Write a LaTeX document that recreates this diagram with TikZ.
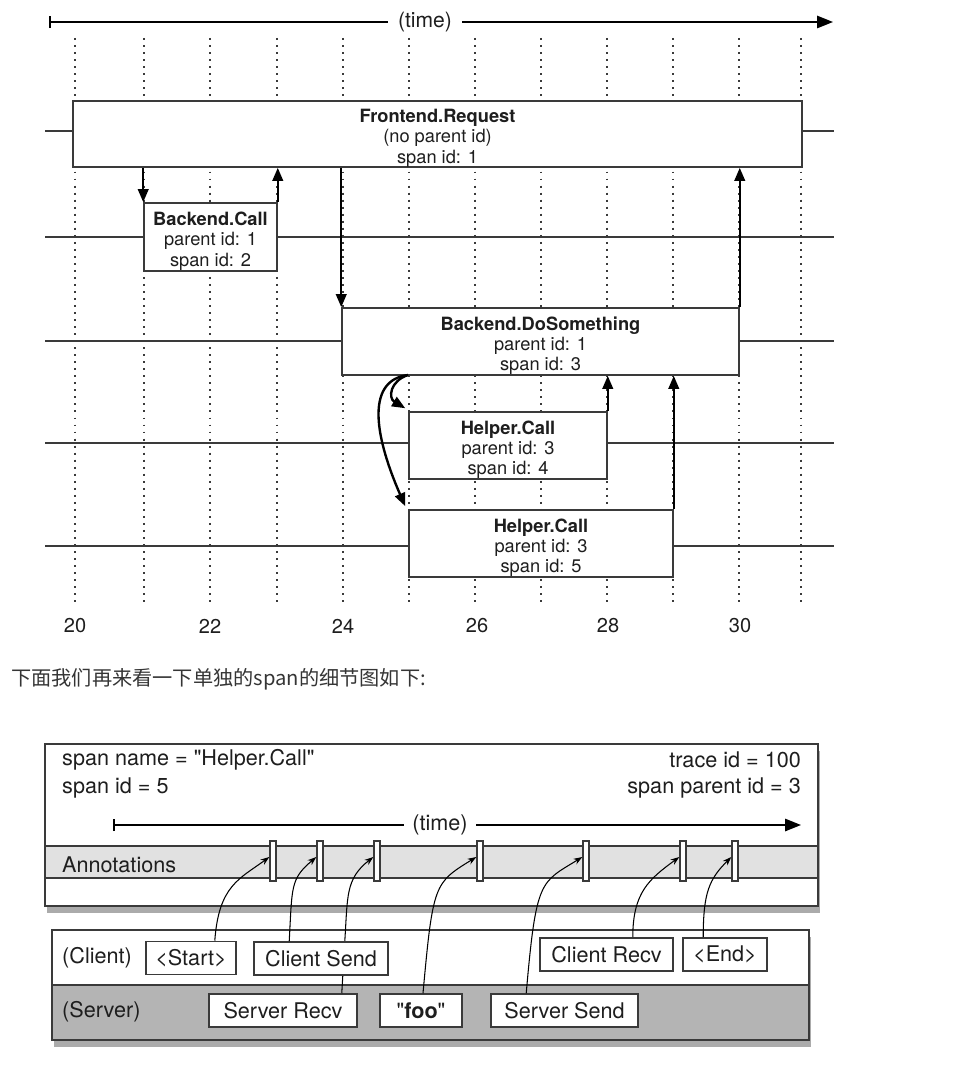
\documentclass[tikz,border=0pt]{standalone}
\usepackage{fontspec}
\setmainfont{TeX Gyre Heros}[Ligatures=TeXOff]
\newfontfamily\cjk{Noto Sans CJK SC}
\usetikzlibrary{arrows.meta,shadows,calc}

\definecolor{ink}{HTML}{1E1E1E}
\definecolor{rulegray}{HTML}{3A3A3A}
\definecolor{annotgray}{HTML}{E1E1E1}
\definecolor{servergray}{HTML}{B4B4B4}
\newcommand{\spantop}{\rule{0pt}{12.5pt}}

\begin{document}
\begin{tikzpicture}[x=0.02cm,y=-0.02cm,
    spanbox/.style={draw=rulegray,line width=0.9pt,fill=white,inner sep=0pt,align=center,
      text=ink,font=\fontsize{10.4}{11.4}\selectfont},
    call/.style={line width=1.35pt,-{Triangle[length=7.5pt,width=6pt]}},
    timetick/.style={draw=rulegray,line width=0.9pt,dash pattern=on 1.1pt off 2.9pt},
    lane/.style={draw=rulegray,line width=0.85pt},
    panel/.style={draw=rulegray,line width=0.9pt,fill=white,inner sep=0pt,
      drop shadow={shadow xshift=1pt,shadow yshift=-4pt,fill=black!60,opacity=0.55}},
    eventbox/.style={draw=rulegray,line width=0.9pt,fill=white,inner sep=0pt,
      minimum height=0.66cm,text=ink,font=\fontsize{12.3}{14}\selectfont},
    marker/.style={draw=rulegray,line width=0.8pt,fill=white,inner sep=0pt,
      minimum width=0.12cm,minimum height=0.8cm},
    trail/.style={line width=0.6pt,-{Stealth[length=5pt,width=3.6pt]}},
    big/.style={text=ink,font=\fontsize{12.3}{14}\selectfont}]
      \useasboundingbox (0,0) rectangle (968,1067);

      % time axis of the trace
      \coordinate (ta) at (49,22);
      \coordinate (tb) at (833,22);
      \draw[line width=0.9pt,{Bar[width=7pt]}-{Triangle[length=9pt,width=7pt]}] (ta) -- (tb);
      \node[fill=white,inner xsep=6pt,text=ink,font=\fontsize{12}{14}\selectfont] (ttime) at (425,22) {(time)};

      \foreach \x in {75,144,210,277,343,409,475,541,607,673,739,801}
        \draw[timetick] (\x,38) -- (\x,607);
      \foreach \y in {131,237,341,443,546}
        \draw[lane] (45,\y) -- (834,\y);

      \node[spanbox,minimum width=14.58cm,minimum height=1.32cm] (front) at (437.5,134)
        {\spantop\textbf{Frontend.Request}\\(no parent id)\\span id: 1};
      \node[spanbox,minimum width=2.66cm,minimum height=1.36cm] (bcall) at (210.5,237)
        {\spantop\textbf{Backend.Call}\\parent id: 1\\span id: 2};
      \node[spanbox,minimum width=7.94cm,minimum height=1.34cm] (dosome) at (540.5,341.5)
        {\spantop\textbf{Backend.DoSomething}\\parent id: 1\\span id: 3};
      \node[spanbox,minimum width=3.96cm,minimum height=1.34cm] (help4) at (508,445.5)
        {\spantop\textbf{Helper.Call}\\parent id: 3\\span id: 4};
      \node[spanbox,minimum width=5.28cm,minimum height=1.34cm] (help5) at (541,543.5)
        {\spantop\textbf{Helper.Call}\\parent id: 3\\span id: 5};

      \coordinate (fork) at (408,375);
      \path[call] (front.south -| bcall.west) edge (bcall.north west)
      (bcall.north east) edge (front.south -| bcall.north east)
      (front.south -| dosome.west) edge (dosome.north west)
      (dosome.north east) edge (front.south -| dosome.north east)
      (help4.north east) edge (dosome.south -| help4.north east)
      (help5.north east) edge (dosome.south -| help5.north east);
      \draw[call] (fork) .. controls (390,381) and (388,398) .. ($(help4.north west)+(-3,-3)$);
      \draw[call] (fork) .. controls (368,380) and (372,430) .. ($(help5.north west)+(-3,-3)$);

      \foreach \t/\x in {20/75,22/210,24/343,26/477,28/608,30/740}
        \node[text=ink,font=\fontsize{11.4}{13}\selectfont] (lbl\t) at (\x,626) {\t};

      \node[anchor=west,text=ink!90,font=\cjk\fontsize{11.5}{13}\selectfont] (note) at (5,679)
        {下面我们再来看一下单独的span的细节图如下:};

      % one span in detail
      \node[panel,minimum width=15.46cm,minimum height=3.24cm] (meta) at (431.5,825) {};
      \node[draw=rulegray,line width=0.9pt,fill=annotgray,inner sep=0pt,
        minimum width=15.46cm,minimum height=0.64cm] (band) at (431.5,862) {};
      \node[big,anchor=west] (sname) at (56,760) {span name = "Helper.Call"};
      \node[big,anchor=west] (sid) at (56,788) {span id = 5};
      \node[big,anchor=east] (trid) at (807,760) {trace id = 100};
      \node[big,anchor=east] (spid) at (807,788) {span parent id = 3};
      \node[big,anchor=west] (annot) at (56,865) {Annotations};

      \coordinate (ba) at (113,825);
      \coordinate (bb) at (801,825);
      \draw[line width=0.9pt,{Bar[width=7pt]}-{Triangle[length=9pt,width=7pt]}] (ba) -- (bb);
      \node[big,fill=white,inner xsep=5pt] (btime) at (440,825) {(time)};

      \foreach \i/\x in {1/273,2/320,3/377,4/480,5/586,6/683,7/735}
        \node[marker] (m\i) at (\x,861) {};

      \node[panel,minimum width=15.14cm,minimum height=2.2cm] (lanes) at (430.5,985) {};
      \node[draw=rulegray,line width=0.9pt,fill=servergray,inner sep=0pt,
        minimum width=15.14cm,minimum height=1.1cm] (server) at (430.5,1012.5) {};
      \node[big,anchor=west] (clbl) at (56,958) {(Client)};
      \node[big,anchor=west] (slbl) at (56,1012) {(Server)};

      \node[eventbox,minimum width=1.8cm] (start) at (191,958) {<Start>};
      \node[eventbox,minimum width=2.96cm] (srecv) at (283,1010.5) {Server Recv};
      \node[eventbox,minimum width=1.64cm] (foo) at (421,1010.5) {"\textbf{foo}"};
      \node[eventbox,minimum width=2.94cm] (ssend) at (564.5,1010.5) {Server Send};
      \node[eventbox,minimum width=2.66cm] (crecv) at (606.5,954.5) {Client Recv};
      \node[eventbox,minimum width=1.68cm] (endev) at (725,954.5) {<End>};

      \draw[trail] ($(srecv.north east)+(-16,0)$) -- ($(srecv.north east)+(-13,-52)$)
        .. controls +(3,-45) and +(-28,22) .. ($(m3.west)+(0,-4)$);
      \node[eventbox,minimum width=2.68cm] (csend) at (321,958.5) {Client Send};

      \draw[trail] ($(start.north east)+(-22,0)$) .. controls +(4,-55) and +(-30,22) .. ($(m1.west)+(0,-4)$);
      \draw[trail] ($(csend.north west)+(36,0)$) .. controls +(3,-55) and +(-26,22) .. ($(m2.west)+(0,-4)$);
      \draw[trail] ($(foo.north)+(2,0)$) .. controls +(10,-110) and +(-42,26) .. ($(m4.west)+(0,-4)$);
      \draw[trail] ($(ssend.north west)+(36,0)$) .. controls +(10,-115) and +(-42,26) .. ($(m5.west)+(0,-4)$);
      \draw[trail] ($(crecv.north east)+(-41,0)$) .. controls +(0,-45) and +(-30,22) .. ($(m6.west)+(0,-4)$);
      \draw[trail] ($(endev.north west)+(21,0)$) .. controls +(0,-45) and +(-22,22) .. ($(m7.west)+(0,-4)$);
    \end{tikzpicture}
\end{document}
